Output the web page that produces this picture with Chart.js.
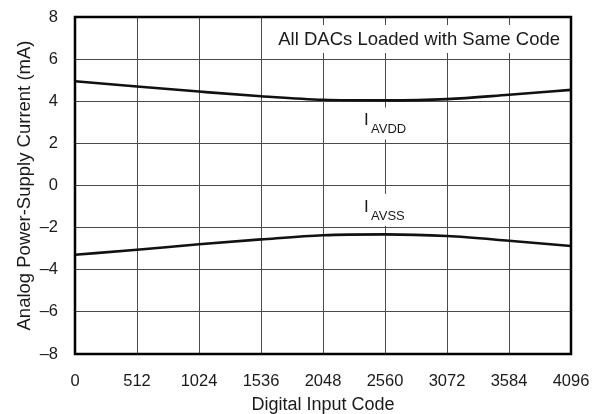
<!DOCTYPE html>
<html><head><meta charset="utf-8">
<script src="https://cdn.jsdelivr.net/npm/chart.js@4/dist/chart.umd.min.js"></script>
<style>html,body{margin:0;padding:0;background:#fff;}</style>
</head><body>
<canvas id="c" width="592" height="414"></canvas>
<script>
const codes = [0, 512, 1024, 1536, 2048, 2560, 3072, 3584, 4096];
const iAVDD = [4.95, 4.70, 4.46, 4.24, 4.07, 4.04, 4.10, 4.31, 4.54];
const iAVSS = [-3.29, -3.05, -2.79, -2.56, -2.36, -2.32, -2.40, -2.62, -2.87];
const xTickValues = [0, 512, 1024, 1536, 2048, 2560, 3072, 3584, 4096];
const yTickValues = [-8, -6, -4, -2, 0, 2, 4, 6, 8];
const xTitle = 'Digital Input Code';
const yTitle = 'Analog Power-Supply Current (mA)';
const noteText = 'All DACs Loaded with Same Code';
const seriesNames = ['AVDD', 'AVSS'];

const FONT = '"Liberation Sans", Arial, Helvetica, sans-serif';
const TXT = '#1a1a1a';
const GRID = '#4a4a4a';
const fmt = v => v < 0 ? '\u2013' + (-v) : String(v);

const overlay = {
  id: 'overlay',
  beforeDatasetsDraw(chart, args, opts) {
    const {ctx, chartArea: a, scales: {x, y}} = chart;
    ctx.save();
    ctx.fillStyle = '#fff';
    ctx.fillRect(a.right - 305, a.top + 8, 305, 28);
    opts.labels.forEach(l => {
      const px = x.getPixelForValue(l.code), py = y.getPixelForValue(l.value);
      ctx.fillRect(px - 23, py - 18, 46, 32);
    });
    ctx.restore();
  },
  afterDatasetsDraw(chart, args, opts) {
    const {ctx, chartArea: a, scales: {x, y}} = chart;
    ctx.save();
    ctx.fillStyle = TXT;
    ctx.textBaseline = 'alphabetic';
    ctx.font = '18.5px ' + FONT;
    ctx.textAlign = 'right';
    ctx.fillText(noteText, a.right - 11, a.top + 28);
    ctx.textAlign = 'left';
    opts.labels.forEach(l => {
      const px = x.getPixelForValue(l.code), py = y.getPixelForValue(l.value);
      ctx.font = '17px ' + FONT;
      ctx.fillText('I', px - 21, py);
      ctx.font = '13px ' + FONT;
      ctx.fillText(l.sub, px - 14, py + 8);
    });
    ctx.strokeStyle = '#000';
    ctx.lineWidth = 2.5;
    ctx.strokeRect(a.left, a.top, a.right - a.left, a.bottom - a.top);
    ctx.restore();
  }
};

const ds = (vals) => ({
  data: codes.map((c, i) => ({x: c, y: vals[i]})),
  borderColor: '#111', borderWidth: 2.6, pointRadius: 0,
  cubicInterpolationMode: 'monotone', fill: false
});

new Chart(document.getElementById('c'), {
  type: 'line',
  data: { datasets: [ds(iAVDD), ds(iAVSS)] },
  options: {
    responsive: false, animation: false, devicePixelRatio: 1,
    layout: { padding: { top: 17, right: 21, left: 0, bottom: 0 } },
    plugins: {
      legend: { display: false }, tooltip: { enabled: false },
      overlay: { labels: [
        { sub: seriesNames[0], code: 2560, value: 2.85 },
        { sub: seriesNames[1], code: 2560, value: -1.25 }
      ] }
    },
    scales: {
      x: {
        type: 'linear', min: 0, max: 4096,
        afterBuildTicks: s => { s.ticks = xTickValues.map(v => ({value: v})); },
        afterFit: s => { s.height = 60; s.paddingLeft = 0; s.paddingRight = 0; s.paddingTop = 0; s.paddingBottom = 0; },
        grid: { color: GRID, lineWidth: 1, drawTicks: false },
        border: { display: false },
        ticks: { padding: 18, color: TXT, font: { family: FONT, size: 16.5 }, maxRotation: 0, autoSkip: false, callback: fmt },
        title: { display: true, text: xTitle, color: TXT, font: { family: FONT, size: 18, lineHeight: 1 }, padding: 0 }
      },
      y: {
        type: 'linear', min: -8, max: 8,
        afterBuildTicks: s => { s.ticks = yTickValues.map(v => ({value: v})); },
        afterFit: s => { s.width = 75; s.paddingLeft = 0; s.paddingRight = 0; s.paddingTop = 0; s.paddingBottom = 0; },
        grid: { color: GRID, lineWidth: 1, drawTicks: false },
        border: { display: false },
        ticks: { padding: 17, color: TXT, font: { family: FONT, size: 16.5 }, autoSkip: false, callback: fmt },
        title: { display: true, text: yTitle, color: TXT, font: { family: FONT, size: 18.5, lineHeight: 1 }, padding: { top: 16, bottom: 0 } }
      }
    }
  },
  plugins: [overlay]
});
</script>
</body></html>
